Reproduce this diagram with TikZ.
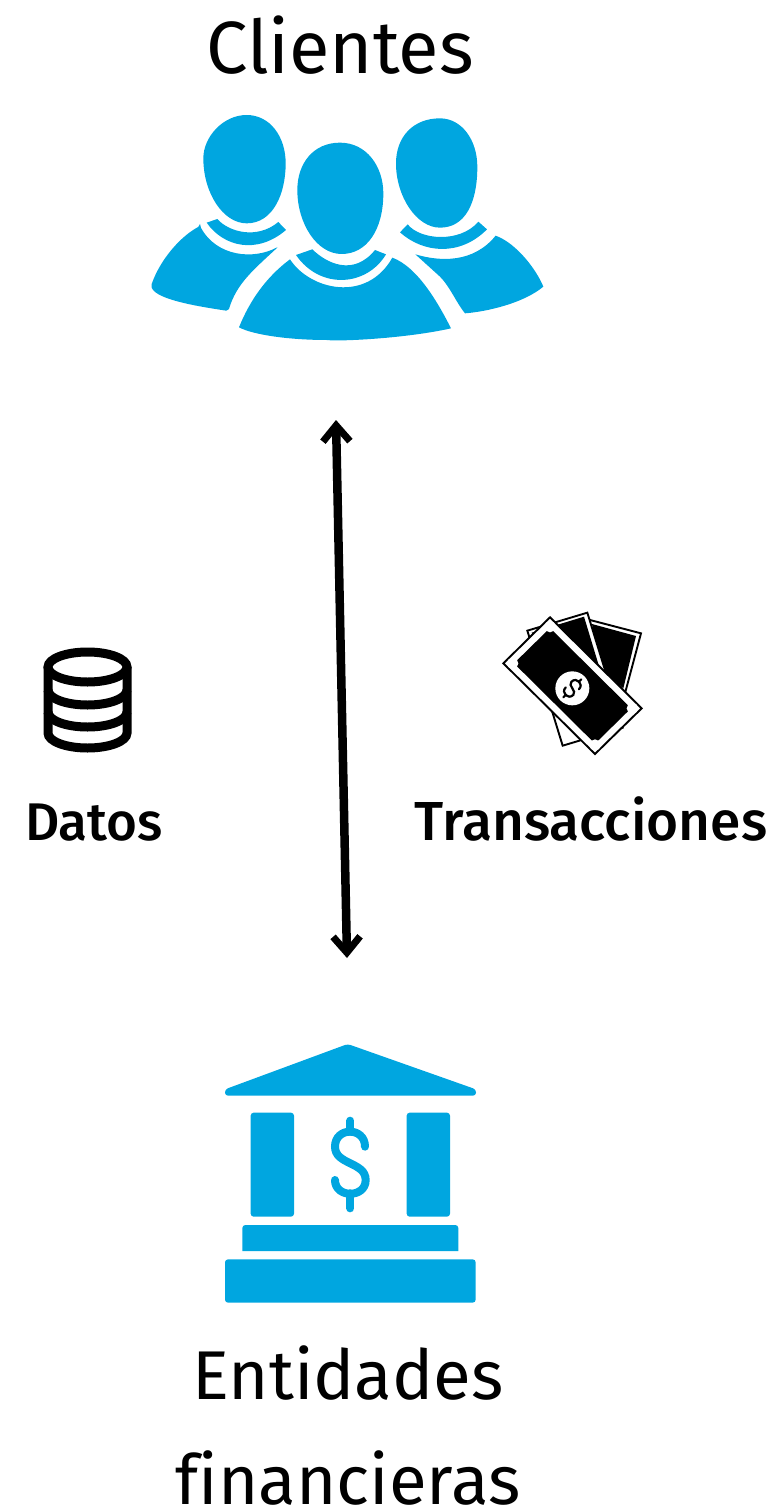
\documentclass[tikz,border=0pt]{standalone}
\usepackage{fontspec}
\setmainfont[Ligatures=NoCommon]{Fira Sans}
\newfontfamily\medio{Fira Sans Medium}
\usetikzlibrary{arrows.meta}
\definecolor{azulicono}{HTML}{00A6E0}
\tikzset{
  icono/.style={fill=azulicono, draw=none},
  titulo/.style={font=\fontsize{69}{105}\selectfont, align=center, inner sep=0pt},
  etiqueta/.style={font=\fontsize{53}{56}\selectfont\medio, inner sep=0pt, anchor=base},
  billete/.style={fill=white, draw=black, line width=1.9pt, line join=miter},
  dolar/.style={draw=azulicono, line width=8pt, line cap=round}
}
\begin{document}
\begin{tikzpicture}[x=1pt, y=-1pt]
    \useasboundingbox (0,0) rectangle (777,1511);

    % Titoli
    \node[titulo, anchor=base, font=\fontsize{74}{105}\selectfont] (clientes) at (340,74) {Clientes};
    \node[titulo] (entidades) at (348,1425) {Entidades\\financieras};

    % Clientes
    \begin{scope}[shift={(140,100)}, scale=1/3]
        \fill[icono] (320,45) .. controls (390,45) and (437,110) .. (437,190) .. controls (437,280) and (400,370) .. (320,370) .. controls (250,370) and (190,280) .. (190,175) .. controls (190,110) and (250,45) .. (320,45) -- cycle;
        \fill[icono] (200,368) -- (232,357) .. controls (265,395) and (350,420) .. (415,366) -- (438,390) .. controls (350,465) and (250,440) .. (200,368) -- cycle;
        \fill[icono, rounded corners=2pt] (180,378) .. controls (230,470) and (340,480) .. (415,440) .. controls (340,510) and (290,550) .. (265,633) .. controls (180,620) and (50,600) .. (33,558) .. controls (60,480) and (120,410) .. (180,378) -- cycle;
        % persona centrale
        \fill[icono] (600,128) .. controls (680,128) and (730,200) .. (730,280) .. controls (730,390) and (680,462) .. (605,462) .. controls (530,462) and (472,370) .. (472,270) .. controls (472,190) and (520,128) .. (600,128) -- cycle;
        \fill[icono] (468,465) -- (517,448) .. controls (560,490) and (640,530) .. (705,450) -- (738,463) .. controls (680,560) and (540,570) .. (468,465) -- cycle;
        \fill[icono] (450,478) .. controls (510,570) and (680,610) .. (757,473) .. controls (830,500) and (890,600) .. (933,685) .. controls (800,715) and (600,725) .. (560,720) .. controls (450,720) and (340,705) .. (297,682) .. controls (330,600) and (380,530) .. (450,478) -- cycle;
        % persona destra
        \fill[icono] (900,55) .. controls (965,55) and (1012,120) .. (1012,200) .. controls (1012,310) and (975,383) .. (900,383) .. controls (830,383) and (768,290) .. (768,190) .. controls (768,110) and (820,55) .. (900,55) -- cycle;
        \fill[icono] (780,397) -- (803,373) .. controls (840,420) and (960,430) .. (1015,365) -- (1041,388) .. controls (960,470) and (850,460) .. (780,397) -- cycle;
        \fill[icono] (826,463) .. controls (900,485) and (1000,490) .. (1067,407) .. controls (1130,430) and (1190,510) .. (1210,560) .. controls (1150,610) and (1040,635) .. (975,640) .. controls (950,610) and (930,560) .. (900,530) -- cycle;
    \end{scope}

    % Freccia
    \coordinate (su) at (336,420);
    \coordinate (giu) at (347,958);
    \draw[line width=8.5pt, {Straight Barb[length=16pt,width=27pt,line width=7pt]}-{Straight Barb[length=16pt,width=27pt,line width=7pt]}] (su) -- (giu);

    % Datos
    \begin{scope}[line width=9pt, black]
        \draw (87.5,667) ellipse (39.5 and 15);
        \draw (48,667) -- (48,733) arc[start angle=180, end angle=360, x radius=39.5, y radius=-15] -- (127,667);
        \draw (48,690) arc[start angle=180, end angle=360, x radius=39.5, y radius=-15];
        \draw (48,712) arc[start angle=180, end angle=360, x radius=39.5, y radius=-15];
    \end{scope}
    \node[etiqueta] (datos) at (94,840) {Datos};

    % Transacciones
    \begin{scope}[shift={(490,600)}, scale=1/3]
        \draw[billete] (300,60) -- (453,100) -- (405,280) -- (300,200) -- cycle;
        \fill[black] (306,72) -- (438,108) -- (400,265) -- (330,205) -- cycle;
        \draw[billete] (112,92) -- (292,38) -- (398,383) -- (218,437) -- cycle;
        \fill[black] (125,98) -- (282,50) -- (332,215) -- (200,330) -- cycle;
        \draw[billete] (180,52) -- (455,325) -- (315,462) -- (40,190) -- cycle;
        \fill[black] (180,84) -- (423,325) -- (315,431) -- (72,190) -- cycle;
        \fill[white] (180,80) circle (17) (427,325) circle (17) (315,435) circle (17) (68,190) circle (17);
        \fill[white] (247,265) circle (51);
        \begin{scope}[shift={(247,265)}, rotate=-45]
            \draw[black, line width=2.2pt, line cap=round] (0,-38) -- (0,-27) (0,27) -- (0,38);
            \draw[black, line width=2.2pt, line cap=round] (16,-12) .. controls (16,-34) and (-16,-34) .. (-16,-12) .. controls (-16,5) and (16,-5) .. (16,12) .. controls (16,34) and (-16,34) .. (-16,12);
        \end{scope}
    \end{scope}
    \node[etiqueta, font=\fontsize{55}{56}\selectfont\medio] (transacciones) at (591,840) {Transacciones};

    % Entidades financieras
    \begin{scope}[shift={(210,1030)}, scale=1/3]
        \fill[icono, rounded corners=3pt] (413,42) -- (798,178) -- (798,197) -- (45,197) -- (45,178) -- cycle;
        \fill[icono, rounded corners=3pt] (122,248) rectangle (252,560);
        \fill[icono, rounded corners=3pt] (590,248) rectangle (720,560);
        \fill[icono] (97,663) [rounded corners=3pt] -- (97,585) -- (745,585) [sharp corners] -- (745,663) -- cycle;
        \fill[icono, rounded corners=3pt] (45,688) rectangle (797,818);
        \draw[dolar] (421,272) -- (421,305);
        \draw[dolar] (421,490) -- (421,535);
        \draw[dolar] (465,350) .. controls (465,290) and (375,290) .. (375,350) .. controls (375,405) and (467,395) .. (467,450) .. controls (467,505) and (375,505) .. (375,450);
    \end{scope}
\end{tikzpicture}
\end{document}
